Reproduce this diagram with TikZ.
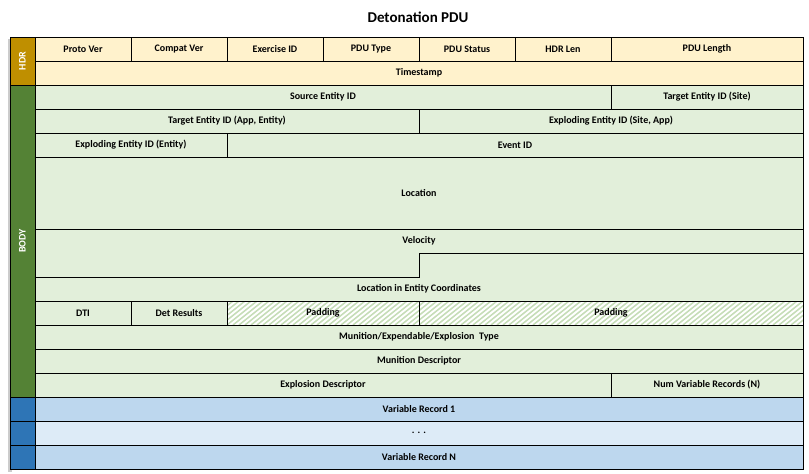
\documentclass[tikz,border=0pt]{standalone}
\usepackage{fontspec}
\setmainfont{Carlito}
\definecolor{gold}{HTML}{BF8F00}
\definecolor{cream}{HTML}{FFF2CC}
\definecolor{grn}{HTML}{548235}
\definecolor{lgrn}{HTML}{E2EFDA}
\definecolor{hgrn}{HTML}{C6DDB8}
\definecolor{blu}{HTML}{2E75B6}
\definecolor{lblu}{HTML}{BDD7EE}
\definecolor{llblu}{HTML}{DDEBF7}
\tikzset{lbl/.style={font=\bfseries\fontsize{10}{12}\selectfont,inner sep=0pt},
 band/.style={font=\bfseries\fontsize{10}{12}\selectfont,text=white,rotate=90,inner sep=0pt},
 grid/.style={draw=black,line width=1pt}}
\newcommand\cell[7]{\fill[#6] (#2,#3) rectangle (#4,#5);\draw[grid] (#2,#3) rectangle (#4,#5);
 \node[lbl] (#1) at ({(#2+#4)/2},{(#3+#5)/2}) {#7};}
\begin{document}
\begin{tikzpicture}[x=1pt,y=-1pt]
\useasboundingbox (0,0) rectangle (809,474);
\node[font=\bfseries\fontsize{15}{18}\selectfont] (title) at (418,17) {Detonation PDU};
% shadow
\fill[gray!40] (8,39) rectangle (12,472);
% bands
\fill[gold] (10,37) rectangle (35,85); \draw[grid] (10,37) rectangle (35,85);
\node[band] (hdr) at (22.5,61) {HDR};
\fill[grn] (10,85) rectangle (35,397); \draw[grid] (10,85) rectangle (35,397);
\node[band] (body) at (22.5,241) {BODY};
\foreach \a/\b in {397/421,421/445,445/469}{\fill[blu] (10,\a) rectangle (35,\b); \draw[grid] (10,\a) rectangle (35,\b);}
% header
\cell{pv}{35}{37}{131}{61}{cream}{Proto Ver}
\cell{cv}{131}{37}{227}{61}{cream}{Compat Ver}
\cell{ex}{227}{37}{323}{61}{cream}{Exercise ID}
\cell{pt}{323}{37}{419}{61}{cream}{PDU Type}
\cell{ps}{419}{37}{515}{61}{cream}{PDU Status}
\cell{hl}{515}{37}{611}{61}{cream}{HDR Len}
\cell{pl}{611}{37}{803}{61}{cream}{PDU Length}
\cell{ts}{35}{61}{803}{85}{cream}{Timestamp}
% body
\cell{se}{35}{85}{611}{109}{lgrn}{Source Entity ID}
\cell{tes}{611}{85}{803}{109}{lgrn}{Target Entity ID (Site)}
\cell{tea}{35}{109}{419}{133}{lgrn}{Target Entity ID (App, Entity)}
\cell{ees}{419}{109}{803}{133}{lgrn}{Exploding Entity ID (Site, App)}
\cell{eee}{35}{133}{227}{157}{lgrn}{Exploding Entity ID (Entity)}
\cell{ev}{227}{133}{803}{157}{lgrn}{Event ID}
\cell{loc}{35}{157}{803}{229}{lgrn}{Location}
% velocity + location in entity coords
\fill[lgrn] (35,229) rectangle (803,301);
\draw[grid] (35,229) rectangle (803,301);
\draw[grid] (35,277) -- (419,277) -- (419,253) -- (803,253);
\node[lbl] (vel) at (419,241) {Velocity};
\node[lbl] (lec) at (419,289) {Location in Entity Coordinates};
% DTI row
\cell{dti}{35}{301}{131}{325}{lgrn}{DTI}
\cell{dr}{131}{301}{227}{325}{lgrn}{Det Results}
\fill[white] (227,301) rectangle (803,325);
\begin{scope}
\clip (227,301) rectangle (803,325);
\foreach \i in {0,6,...,600}{\draw[hgrn,line width=1.5pt] (227+\i-30,325) -- (227+\i,301);}
\end{scope}
\draw[grid] (227,301) rectangle (419,325);
\draw[grid] (419,301) rectangle (803,325);
\node[lbl] (pad1) at (323,313) {Padding};
\node[lbl] (pad2) at (611,313) {Padding};
\cell{met}{35}{325}{803}{349}{lgrn}{Munition/Expendable/Explosion\ \ Type}
\cell{md}{35}{349}{803}{373}{lgrn}{Munition Descriptor}
\cell{ed}{35}{373}{611}{397}{lgrn}{Explosion Descriptor}
\cell{nvr}{611}{373}{803}{397}{lgrn}{Num Variable Records (N)}
\cell{vr1}{35}{397}{803}{421}{lblu}{Variable Record 1}
\cell{dots}{35}{421}{803}{445}{llblu}{. . .}
\cell{vrn}{35}{445}{803}{469}{lblu}{Variable Record N}
\end{tikzpicture}
\end{document}
